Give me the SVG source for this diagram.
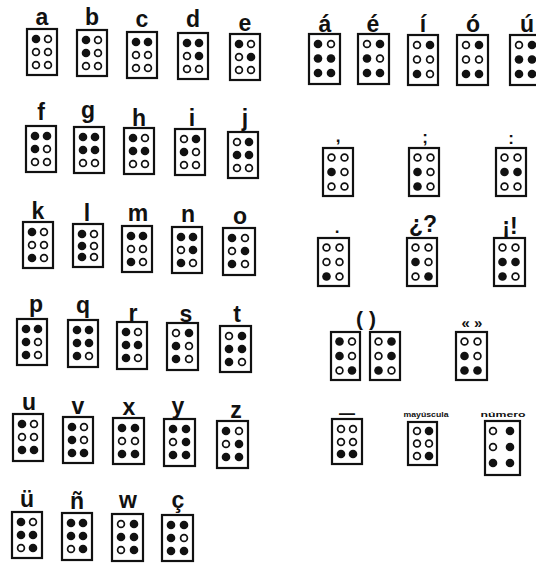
<svg xmlns="http://www.w3.org/2000/svg" xmlns:xlink="http://www.w3.org/1999/xlink" width="536" height="563" viewBox="0 0 536 563">
<style>
.bx{fill:none;stroke:#111;stroke-width:2.2}
.lb{font-family:"Liberation Sans",Arial,sans-serif;font-size:23px;font-weight:bold;text-anchor:middle;fill:#111}
.pn{font-family:"Liberation Sans",Arial,sans-serif;font-size:17px;font-weight:bold;text-anchor:middle;fill:#111}
.sm{font-family:"Liberation Sans",Arial,sans-serif;font-size:8px;font-weight:bold;text-anchor:middle;fill:#111}
</style>
<defs>
<circle id="F" r="4.3" fill="#111"/>
<circle id="O" r="3.4" fill="#fff" stroke="#111" stroke-width="1.7"/>
</defs>
<rect width="536" height="563" fill="#fff"/>

<!-- Row 1 left -->
<g id="cell-a" transform="translate(27,29)"><rect class="bx" width="30" height="46"/><use href="#F" x="9" y="10"/><use href="#O" x="9" y="23"/><use href="#O" x="9" y="36"/><use href="#O" x="21" y="10"/><use href="#O" x="21" y="23"/><use href="#O" x="21" y="36"/><text class="lb" x="15" y="-4">a</text></g>
<g id="cell-b" transform="translate(77,30)"><rect class="bx" width="30" height="46"/><use href="#F" x="9" y="10"/><use href="#F" x="9" y="23"/><use href="#O" x="9" y="36"/><use href="#O" x="21" y="10"/><use href="#O" x="21" y="23"/><use href="#O" x="21" y="36"/><text class="lb" x="15" y="-5">b</text></g>
<g id="cell-c" transform="translate(127,32)"><rect class="bx" width="30" height="46"/><use href="#F" x="9" y="10"/><use href="#O" x="9" y="23"/><use href="#O" x="9" y="36"/><use href="#F" x="21" y="10"/><use href="#O" x="21" y="23"/><use href="#O" x="21" y="36"/><text class="lb" x="15" y="-5">c</text></g>
<g id="cell-d" transform="translate(178,33)"><rect class="bx" width="30" height="46"/><use href="#F" x="9" y="10"/><use href="#O" x="9" y="23"/><use href="#O" x="9" y="36"/><use href="#F" x="21" y="10"/><use href="#F" x="21" y="23"/><use href="#O" x="21" y="36"/><text class="lb" x="15" y="-6">d</text></g>
<g id="cell-e" transform="translate(230,34)"><rect class="bx" width="30" height="46"/><use href="#F" x="9" y="10"/><use href="#O" x="9" y="23"/><use href="#O" x="9" y="36"/><use href="#O" x="21" y="10"/><use href="#F" x="21" y="23"/><use href="#O" x="21" y="36"/><text class="lb" x="15" y="-3">e</text></g>

<!-- Row 1 right -->
<g id="cell-a-acute" transform="translate(309,34)"><rect class="bx" width="31" height="50"/><use href="#F" x="9" y="10"/><use href="#F" x="9" y="24.5"/><use href="#F" x="9" y="39"/><use href="#O" x="22" y="10"/><use href="#F" x="22" y="24.5"/><use href="#F" x="22" y="39"/><text class="lb" x="16" y="-2">á</text></g>
<g id="cell-e-acute" transform="translate(358,34)"><rect class="bx" width="31" height="50"/><use href="#O" x="9" y="10"/><use href="#F" x="9" y="24.5"/><use href="#F" x="9" y="39"/><use href="#F" x="22" y="10"/><use href="#O" x="22" y="24.5"/><use href="#F" x="22" y="39"/><text class="lb" x="15" y="-2">é</text></g>
<g id="cell-i-acute" transform="translate(408,35)"><rect class="bx" width="30" height="50"/><use href="#O" x="9" y="10"/><use href="#O" x="9" y="24.5"/><use href="#F" x="9" y="39"/><use href="#F" x="22" y="10"/><use href="#O" x="22" y="24.5"/><use href="#O" x="22" y="39"/><text class="lb" x="15" y="-3">í</text></g>
<g id="cell-o-acute" transform="translate(457,35)"><rect class="bx" width="31" height="50"/><use href="#O" x="9" y="10"/><use href="#O" x="9" y="24.5"/><use href="#F" x="9" y="39"/><use href="#F" x="22" y="10"/><use href="#O" x="22" y="24.5"/><use href="#F" x="22" y="39"/><text class="lb" x="16" y="-3">ó</text></g>
<g id="cell-u-acute" transform="translate(510,35)"><rect class="bx" width="31" height="50"/><use href="#O" x="9" y="10"/><use href="#F" x="9" y="24.5"/><use href="#F" x="9" y="39"/><use href="#F" x="22" y="10"/><use href="#F" x="22" y="24.5"/><use href="#F" x="22" y="39"/><text class="lb" x="17" y="-3">ú</text></g>

<!-- Row 2 left -->
<g id="cell-f" transform="translate(26,126)"><rect class="bx" width="30" height="46"/><use href="#F" x="9" y="10"/><use href="#F" x="9" y="23"/><use href="#O" x="9" y="36"/><use href="#F" x="21" y="10"/><use href="#O" x="21" y="23"/><use href="#O" x="21" y="36"/><text class="lb" x="15" y="-6">f</text></g>
<g id="cell-g" transform="translate(74,127)"><rect class="bx" width="30" height="46"/><use href="#F" x="9" y="10"/><use href="#F" x="9" y="23"/><use href="#O" x="9" y="36"/><use href="#F" x="21" y="10"/><use href="#F" x="21" y="23"/><use href="#O" x="21" y="36"/><text class="lb" x="14" y="-9">g</text></g>
<g id="cell-h" transform="translate(124,128)"><rect class="bx" width="30" height="46"/><use href="#F" x="9" y="10"/><use href="#F" x="9" y="23"/><use href="#O" x="9" y="36"/><use href="#O" x="21" y="10"/><use href="#F" x="21" y="23"/><use href="#O" x="21" y="36"/><text class="lb" x="15" y="-2">h</text></g>
<g id="cell-i" transform="translate(175,129)"><rect class="bx" width="30" height="46"/><use href="#O" x="9" y="10"/><use href="#F" x="9" y="23"/><use href="#O" x="9" y="36"/><use href="#F" x="21" y="10"/><use href="#O" x="21" y="23"/><use href="#O" x="21" y="36"/><text class="lb" x="17" y="-3">i</text></g>
<g id="cell-j" transform="translate(228,132)"><rect class="bx" width="30" height="46"/><use href="#O" x="9" y="10"/><use href="#F" x="9" y="23"/><use href="#O" x="9" y="36"/><use href="#F" x="21" y="10"/><use href="#F" x="21" y="23"/><use href="#O" x="21" y="36"/><text class="lb" x="17" y="-6">j</text></g>

<!-- Row 2 right -->
<g id="cell-comma" transform="translate(323,148)"><rect class="bx" width="30" height="48"/><use href="#O" x="8.5" y="9.5"/><use href="#F" x="8.5" y="24"/><use href="#O" x="8.5" y="38.5"/><use href="#O" x="21.5" y="9.5"/><use href="#O" x="21.5" y="24"/><use href="#O" x="21.5" y="38.5"/><text class="pn" x="15" y="-6">,</text></g>
<g id="cell-semicolon" transform="translate(409,148)"><rect class="bx" width="30" height="48"/><use href="#O" x="8.5" y="9.5"/><use href="#F" x="8.5" y="24"/><use href="#F" x="8.5" y="38.5"/><use href="#O" x="21.5" y="9.5"/><use href="#O" x="21.5" y="24"/><use href="#O" x="21.5" y="38.5"/><text class="pn" x="16" y="-5">;</text></g>
<g id="cell-colon" transform="translate(496,148)"><rect class="bx" width="30" height="48"/><use href="#O" x="8.5" y="9.5"/><use href="#F" x="8.5" y="24"/><use href="#O" x="8.5" y="38.5"/><use href="#O" x="21.5" y="9.5"/><use href="#F" x="21.5" y="24"/><use href="#O" x="21.5" y="38.5"/><text class="pn" x="15" y="-4">:</text></g>

<!-- Row 3 left -->
<g id="cell-k" transform="translate(23,222)"><rect class="bx" width="30" height="46"/><use href="#F" x="9" y="10"/><use href="#O" x="9" y="23"/><use href="#F" x="9" y="36"/><use href="#O" x="21" y="10"/><use href="#O" x="21" y="23"/><use href="#O" x="21" y="36"/><text class="lb" x="15" y="-3">k</text></g>
<g id="cell-l" transform="translate(73,224)"><rect class="bx" width="30" height="43"/><use href="#F" x="9" y="10"/><use href="#F" x="9" y="22"/><use href="#F" x="9" y="33"/><use href="#O" x="21" y="10"/><use href="#O" x="21" y="22"/><use href="#O" x="21" y="33"/><text class="lb" x="14" y="-3">l</text></g>
<g id="cell-m" transform="translate(122,226)"><rect class="bx" width="30" height="46"/><use href="#F" x="9" y="10"/><use href="#O" x="9" y="23"/><use href="#F" x="9" y="36"/><use href="#F" x="21" y="10"/><use href="#O" x="21" y="23"/><use href="#O" x="21" y="36"/><text class="lb" x="16" y="-5">m</text></g>
<g id="cell-n" transform="translate(172,227)"><rect class="bx" width="30" height="46"/><use href="#F" x="9" y="10"/><use href="#O" x="9" y="23"/><use href="#F" x="9" y="36"/><use href="#F" x="21" y="10"/><use href="#F" x="21" y="23"/><use href="#O" x="21" y="36"/><text class="lb" x="16" y="-5">n</text></g>
<g id="cell-o" transform="translate(223,228)"><rect class="bx" width="32" height="47"/><use href="#F" x="9" y="10"/><use href="#O" x="9" y="23"/><use href="#F" x="9" y="36"/><use href="#O" x="22" y="10"/><use href="#F" x="22" y="23"/><use href="#O" x="22" y="36"/><text class="lb" x="17" y="-4">o</text></g>

<!-- Row 3 right -->
<g id="cell-period" transform="translate(318,238)"><rect class="bx" width="31" height="48"/><use href="#O" x="8.5" y="9.5"/><use href="#O" x="8.5" y="24"/><use href="#F" x="8.5" y="38.5"/><use href="#O" x="21.5" y="9.5"/><use href="#O" x="21.5" y="24"/><use href="#O" x="21.5" y="38.5"/><text class="pn" x="19" y="-5">.</text></g>
<g id="cell-question" transform="translate(407,238)"><rect class="bx" width="30" height="48"/><use href="#O" x="8.5" y="9.5"/><use href="#F" x="8.5" y="24"/><use href="#O" x="8.5" y="38.5"/><use href="#O" x="21.5" y="9.5"/><use href="#O" x="21.5" y="24"/><use href="#F" x="21.5" y="38.5"/><text class="lb" x="16" y="-6">¿?</text></g>
<g id="cell-exclamation" transform="translate(494,238)"><rect class="bx" width="31" height="48"/><use href="#O" x="8.5" y="9.5"/><use href="#F" x="8.5" y="24"/><use href="#F" x="8.5" y="38.5"/><use href="#O" x="21.5" y="9.5"/><use href="#F" x="21.5" y="24"/><use href="#O" x="21.5" y="38.5"/><text class="lb" x="16" y="-4">¡!</text></g>

<!-- Row 4 left -->
<g id="cell-p" transform="translate(17,319)"><rect class="bx" width="30" height="46"/><use href="#F" x="9" y="10"/><use href="#F" x="9" y="23"/><use href="#F" x="9" y="36"/><use href="#F" x="21" y="10"/><use href="#O" x="21" y="23"/><use href="#O" x="21" y="36"/><text class="lb" x="19" y="-7">p</text></g>
<g id="cell-q" transform="translate(68,320)"><rect class="bx" width="30" height="47"/><use href="#F" x="9" y="10"/><use href="#F" x="9" y="23"/><use href="#F" x="9" y="36"/><use href="#F" x="21" y="10"/><use href="#F" x="21" y="23"/><use href="#O" x="21" y="36"/><text class="lb" x="15" y="-7">q</text></g>
<g id="cell-r" transform="translate(117,322)"><rect class="bx" width="30" height="47"/><use href="#F" x="9" y="10"/><use href="#F" x="9" y="23"/><use href="#F" x="9" y="36"/><use href="#O" x="21" y="10"/><use href="#F" x="21" y="23"/><use href="#O" x="21" y="36"/><text class="lb" x="16" y="-1">r</text></g>
<g id="cell-s" transform="translate(167,323)"><rect class="bx" width="31" height="47"/><use href="#O" x="9" y="10"/><use href="#F" x="9" y="23"/><use href="#F" x="9" y="36"/><use href="#F" x="22" y="10"/><use href="#O" x="22" y="23"/><use href="#O" x="22" y="36"/><text class="lb" x="19" y="-1">s</text></g>
<g id="cell-t" transform="translate(220,326)"><rect class="bx" width="31" height="46"/><use href="#O" x="9" y="10"/><use href="#F" x="9" y="23"/><use href="#F" x="9" y="36"/><use href="#F" x="22" y="10"/><use href="#F" x="22" y="23"/><use href="#O" x="22" y="36"/><text class="lb" x="17" y="-4">t</text></g>

<!-- Row 4 right -->
<g id="cell-parentheses">
<g transform="translate(331,332)"><rect class="bx" width="29" height="48"/><use href="#F" x="8.5" y="9.5"/><use href="#F" x="8.5" y="24"/><use href="#O" x="8.5" y="38.5"/><use href="#O" x="21" y="9.5"/><use href="#O" x="21" y="24"/><use href="#F" x="21" y="38.5"/></g>
<g transform="translate(370,332)"><rect class="bx" width="30" height="48"/><use href="#O" x="8.5" y="9.5"/><use href="#O" x="8.5" y="24"/><use href="#F" x="8.5" y="38.5"/><use href="#F" x="21.5" y="9.5"/><use href="#F" x="21.5" y="24"/><use href="#O" x="21.5" y="38.5"/></g>
<text class="lb" x="366" y="326" style="font-size:21px">( )</text>
</g>
<g id="cell-quotes" transform="translate(456,332)"><rect class="bx" width="31" height="48"/><use href="#O" x="8.5" y="9.5"/><use href="#F" x="8.5" y="24"/><use href="#F" x="8.5" y="38.5"/><use href="#O" x="21.5" y="9.5"/><use href="#O" x="21.5" y="24"/><use href="#F" x="21.5" y="38.5"/><text class="pn" x="16" y="-4" style="font-size:15px">« »</text></g>

<!-- Row 5 left -->
<g id="cell-u" transform="translate(13,414)"><rect class="bx" width="30" height="47"/><use href="#F" x="9" y="10"/><use href="#O" x="9" y="23"/><use href="#F" x="9" y="36"/><use href="#O" x="21" y="10"/><use href="#O" x="21" y="23"/><use href="#F" x="21" y="36"/><text class="lb" x="16" y="-4">u</text></g>
<g id="cell-v" transform="translate(63,417)"><rect class="bx" width="30" height="46"/><use href="#F" x="9" y="10"/><use href="#F" x="9" y="23"/><use href="#F" x="9" y="36"/><use href="#O" x="21" y="10"/><use href="#O" x="21" y="23"/><use href="#F" x="21" y="36"/><text class="lb" x="15" y="-3">v</text></g>
<g id="cell-x" transform="translate(113,418)"><rect class="bx" width="31" height="46"/><use href="#F" x="9" y="10"/><use href="#O" x="9" y="23"/><use href="#F" x="9" y="36"/><use href="#F" x="22" y="10"/><use href="#O" x="22" y="23"/><use href="#F" x="22" y="36"/><text class="lb" x="16" y="-3">x</text></g>
<g id="cell-y" transform="translate(164,419)"><rect class="bx" width="31" height="47"/><use href="#F" x="9" y="10"/><use href="#O" x="9" y="23"/><use href="#F" x="9" y="36"/><use href="#F" x="22" y="10"/><use href="#F" x="22" y="23"/><use href="#F" x="22" y="36"/><text class="lb" x="14" y="-5">y</text></g>
<g id="cell-z" transform="translate(217,421)"><rect class="bx" width="31" height="47"/><use href="#F" x="9" y="10"/><use href="#O" x="9" y="23"/><use href="#F" x="9" y="36"/><use href="#O" x="22" y="10"/><use href="#F" x="22" y="23"/><use href="#F" x="22" y="36"/><text class="lb" x="19" y="-3">z</text></g>

<!-- Row 5 right -->
<g id="cell-hyphen" transform="translate(332,419)"><rect class="bx" width="30" height="45"/><use href="#O" x="9" y="10"/><use href="#O" x="9" y="23"/><use href="#F" x="9" y="35"/><use href="#O" x="21" y="10"/><use href="#O" x="21" y="23"/><use href="#F" x="21" y="35"/><text class="pn" x="15" y="0" style="font-size:16px">—</text></g>
<g id="cell-capital" transform="translate(408,422)"><rect class="bx" width="29" height="43"/><use href="#O" x="9" y="9"/><use href="#O" x="9" y="21.5"/><use href="#O" x="9" y="34"/><use href="#F" x="21" y="9"/><use href="#O" x="21" y="21.5"/><use href="#F" x="21" y="34"/><text class="sm" x="18" y="-5" textLength="45" lengthAdjust="spacingAndGlyphs">mayúscula</text></g>
<g id="cell-number" transform="translate(485,421)"><rect class="bx" width="35" height="54"/><use href="#O" x="8" y="10"/><use href="#O" x="8" y="26"/><use href="#F" x="8" y="42"/><use href="#F" x="25" y="10"/><use href="#F" x="25" y="26"/><use href="#F" x="25" y="42"/><text class="sm" x="18" y="-4" textLength="45" lengthAdjust="spacingAndGlyphs">número</text></g>

<!-- Row 6 left -->
<g id="cell-u-diaeresis" transform="translate(12,512)"><rect class="bx" width="30" height="46"/><use href="#F" x="9" y="10"/><use href="#F" x="9" y="23"/><use href="#O" x="9" y="36"/><use href="#O" x="21" y="10"/><use href="#F" x="21" y="23"/><use href="#F" x="21" y="36"/><text class="lb" x="15" y="-5">ü</text></g>
<g id="cell-n-tilde" transform="translate(62,513)"><rect class="bx" width="30" height="47"/><use href="#F" x="9" y="10"/><use href="#F" x="9" y="23"/><use href="#O" x="9" y="36"/><use href="#F" x="21" y="10"/><use href="#F" x="21" y="23"/><use href="#F" x="21" y="36"/><text class="lb" x="15" y="-4">ñ</text></g>
<g id="cell-w" transform="translate(112,514)"><rect class="bx" width="31" height="47"/><use href="#O" x="9" y="10"/><use href="#F" x="9" y="23"/><use href="#O" x="9" y="36"/><use href="#F" x="22" y="10"/><use href="#F" x="22" y="23"/><use href="#F" x="22" y="36"/><text class="lb" x="16" y="-6">w</text></g>
<g id="cell-c-cedilla" transform="translate(162,515)"><rect class="bx" width="31" height="46"/><use href="#F" x="9" y="10"/><use href="#F" x="9" y="23"/><use href="#F" x="9" y="36"/><use href="#F" x="22" y="10"/><use href="#O" x="22" y="23"/><use href="#F" x="22" y="36"/><text class="lb" x="16" y="-7">ç</text></g>
</svg>
